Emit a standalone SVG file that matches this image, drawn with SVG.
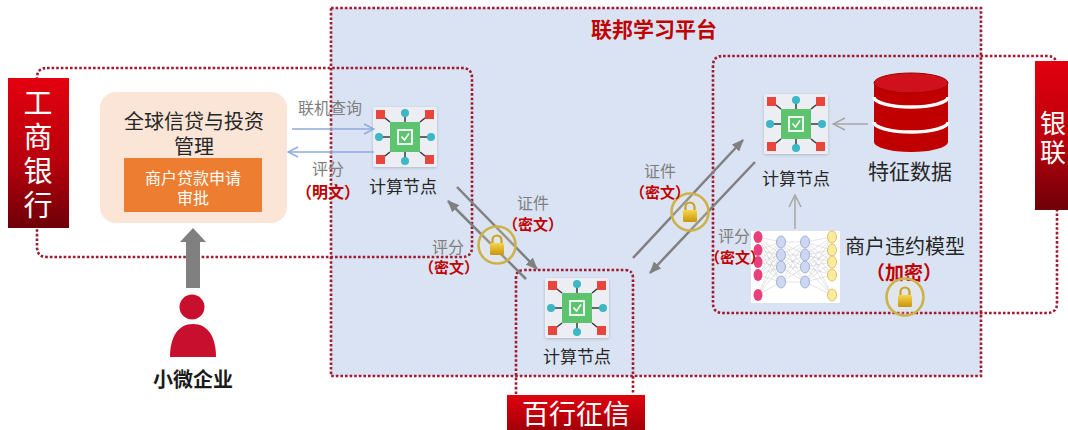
<svg xmlns="http://www.w3.org/2000/svg" width="1068" height="430" viewBox="0 0 1068 430">
  <defs>
    <style>
      text{font-family:"Noto Sans CJK SC","Noto Sans",sans-serif;dominant-baseline:central;text-anchor:middle}
      .dot{fill:none;stroke:#a01a30;stroke-width:2.6;stroke-dasharray:2.6 2}
      .gray{fill:#7f7f7f;font-size:16px}
      .red{fill:#c00000;font-size:15px;font-weight:bold}
      .lbl{fill:#262626;font-size:17px}
      .bank{fill:#ffffff;font-size:29px}
      .vert{writing-mode:vertical-rl;text-anchor:start}
      .dg{stroke:#808080;stroke-width:2.5;fill:none}
      .blue{stroke:#8faadc;stroke-width:1.5;fill:none}
      .thin{stroke:#a6a6a6;stroke-width:1.5;fill:none}
      .nn line{stroke:#c8c8c8;stroke-width:0.5}
    </style>
    <linearGradient id="redgrad" x1="0" y1="0" x2="0" y2="1">
      <stop offset="0" stop-color="#e3000f"/>
      <stop offset="0.55" stop-color="#b8000c"/>
      <stop offset="1" stop-color="#6e0008"/>
    </linearGradient>
    <linearGradient id="redgrad2" x1="0" y1="0" x2="0" y2="1">
      <stop offset="0" stop-color="#e0000e"/>
      <stop offset="1" stop-color="#a3000a"/>
    </linearGradient>
    <linearGradient id="gold" x1="0" y1="0" x2="0" y2="1">
      <stop offset="0" stop-color="#f6d64a"/>
      <stop offset="1" stop-color="#c9940f"/>
    </linearGradient>
    <filter id="sh" x="-20%" y="-20%" width="140%" height="140%">
      <feDropShadow dx="0" dy="1" stdDeviation="1.6" flood-color="#7a7a90" flood-opacity="0.45"/>
    </filter>
    <marker id="tri" viewBox="0 0 12 10" refX="11" refY="5" markerWidth="12" markerHeight="10" orient="auto" markerUnits="userSpaceOnUse">
      <path d="M0,0 L12,5 L0,10 z" fill="#808080"/>
    </marker>
    <marker id="chevB" viewBox="0 0 12 12" refX="11" refY="6" markerWidth="12" markerHeight="12" orient="auto" markerUnits="userSpaceOnUse">
      <path d="M1,1 L11,6 L1,11" fill="none" stroke="#8faadc" stroke-width="1.5"/>
    </marker>
    <marker id="chevG" viewBox="0 0 14 14" refX="13" refY="7" markerWidth="14" markerHeight="14" orient="auto" markerUnits="userSpaceOnUse">
      <path d="M1,1 L13,7 L1,13" fill="none" stroke="#a6a6a6" stroke-width="1.5"/>
    </marker>
    <!-- compute node icon -->
    <symbol id="cnode" viewBox="0 0 64 60" overflow="visible">
      <rect x="0" y="0" width="64" height="60" rx="2" fill="#eceef4" filter="url(#sh)"/>
      <g stroke="#3a3a3a" stroke-width="1.5">
        <line x1="7.5" y1="7.5" x2="17" y2="15"/>
        <line x1="56.5" y1="7.5" x2="47" y2="15"/>
        <line x1="7.5" y1="52.5" x2="17" y2="45"/>
        <line x1="56.5" y1="52.5" x2="47" y2="45"/>
        <line x1="32" y1="6" x2="32" y2="15"/>
        <line x1="32" y1="54" x2="32" y2="45"/>
        <line x1="6" y1="30" x2="17" y2="30"/>
        <line x1="58" y1="30" x2="47" y2="30"/>
      </g>
      <rect x="17" y="15" width="30" height="30" fill="#5cc46e"/>
      <rect x="25" y="23" width="14" height="14" fill="none" stroke="#ffffff" stroke-width="1.8"/>
      <path d="M28.5,29.5 L31.5,33 L36,26.5" fill="none" stroke="#ffffff" stroke-width="1.6"/>
      <g fill="#e8453c">
        <rect x="3" y="3" width="9" height="9"/>
        <rect x="52" y="3" width="9" height="9"/>
        <rect x="3" y="48" width="9" height="9"/>
        <rect x="52" y="48" width="9" height="9"/>
      </g>
      <g fill="#3bb8c4">
        <circle cx="32" cy="6" r="4"/>
        <circle cx="32" cy="54" r="4"/>
        <circle cx="6" cy="30" r="4"/>
        <circle cx="58" cy="30" r="4"/>
      </g>
    </symbol>
    <!-- padlock in a ring -->
    <symbol id="lock" viewBox="-20 -20 40 40" overflow="visible">
      <circle r="18.5" fill="#fff4c8" fill-opacity="0.18" stroke="#cdb14c" stroke-width="2.6"/>
      <path d="M-4.5,-1 V-5 A4.5,4.5 0 0 1 4.5,-5 V-1" fill="none" stroke="#c9a227" stroke-width="2.2"/>
      <rect x="-7" y="-2" width="14" height="12" rx="1.5" fill="url(#gold)"/>
    </symbol>
  </defs>

  <rect width="1068" height="430" fill="#ffffff"/>

  <!-- federated learning platform -->
  <g id="platform">
    <rect x="331" y="8" width="650" height="368" fill="#dae3f3"/>
    <rect x="331" y="8" width="650" height="368" class="dot"/>
    <text x="654" y="28" style="fill:#c00000;font-size:21px;font-weight:bold">联邦学习平台</text>
  </g>

  <!-- party boundaries -->
  <g id="boundaries">
    <path class="dot" d="M47,68 H462 Q472,68 472,78 V247 Q472,257 462,257 H47 Q37,257 37,247 V78 Q37,68 47,68 Z"/>
    <path class="dot" d="M723,56 H1047 Q1057,56 1057,66 V303 Q1057,313 1047,313 H723 Q713,313 713,303 V66 Q713,56 723,56 Z"/>
    <path class="dot" d="M516,394 V278 Q516,270 524,270 H625 Q633,270 633,278 V394"/>
  </g>

  <!-- ICBC label -->
  <g id="icbc">
    <rect x="8" y="78" width="61" height="150" fill="url(#redgrad)"/>
    <text class="bank vert" x="38" y="88" style="letter-spacing:5px">工商银行</text>
  </g>

  <!-- UnionPay label -->
  <g id="unionpay">
    <rect x="1035" y="61" width="33" height="149" fill="url(#redgrad)"/>
    <text class="bank vert" x="1053" y="110" style="font-size:26px;letter-spacing:3px">银联</text>
  </g>

  <!-- Baihang credit label -->
  <g id="baihang">
    <rect x="507" y="395" width="138" height="35" fill="url(#redgrad2)"/>
    <text class="bank" x="576" y="412" style="font-size:27px">百行征信</text>
  </g>

  <!-- credit management system -->
  <g id="credit-mgmt">
    <rect x="100" y="92" width="187" height="131" rx="16" fill="#fbe5d6"/>
    <text style="fill:#262626;font-size:20px"><tspan x="194" y="120">全球信贷与投资</tspan><tspan x="194" y="145">管理</tspan></text>
    <rect x="124" y="158" width="138" height="54" fill="#ed7d31"/>
    <text style="fill:#ffffff;font-size:16px"><tspan x="193" y="177">商户贷款申请</tspan><tspan x="193" y="197">审批</tspan></text>
  </g>

  <!-- small enterprise -->
  <g id="enterprise">
    <circle cx="192" cy="307" r="12.5" fill="#c8102e"/>
    <path d="M170,357 C170,337 178,324 193,324 C208,324 216,337 216,357 Z" fill="#c8102e"/>
    <text x="193" y="378" style="fill:#1a1a1a;font-size:20px;font-weight:bold">小微企业</text>
  </g>

  <!-- compute nodes -->
  <g id="node-icbc">
    <use href="#cnode" x="373" y="107" width="64" height="60"/>
    <text class="lbl" x="403" y="185">计算节点</text>
  </g>
  <g id="node-baihang">
    <use href="#cnode" x="545" y="278" width="64" height="60"/>
    <text class="lbl" x="577" y="355">计算节点</text>
  </g>
  <g id="node-unionpay">
    <use href="#cnode" x="764" y="94" width="64" height="60"/>
    <text class="lbl" x="796" y="177">计算节点</text>
  </g>

  <!-- feature data store -->
  <g id="feature-data">
    <path d="M874,83 V142 A37,10 0 0 0 948,142 V83 Z" fill="#c00000"/>
    <ellipse cx="911" cy="83" rx="37" ry="10" fill="#d0101a" stroke="#a00000" stroke-width="1"/>
    <path d="M874,97 A37,10 0 0 0 948,97" fill="none" stroke="#ffffff" stroke-width="3.5"/>
    <path d="M874,122 A37,10 0 0 0 948,122" fill="none" stroke="#ffffff" stroke-width="3.5"/>
    <text x="910" y="170" style="fill:#262626;font-size:21px">特征数据</text>
  </g>

  <!-- default model -->
  <g id="default-model">
    <rect x="751" y="231" width="89" height="72" fill="#ffffff"/>
    <g class="nn">
      <g>
        <line x1="758" y1="237" x2="781" y2="242"/><line x1="758" y1="237" x2="781" y2="255"/><line x1="758" y1="237" x2="781" y2="267"/><line x1="758" y1="237" x2="781" y2="282"/>
        <line x1="758" y1="250" x2="781" y2="242"/><line x1="758" y1="250" x2="781" y2="255"/><line x1="758" y1="250" x2="781" y2="267"/><line x1="758" y1="250" x2="781" y2="282"/>
        <line x1="758" y1="262" x2="781" y2="242"/><line x1="758" y1="262" x2="781" y2="255"/><line x1="758" y1="262" x2="781" y2="267"/><line x1="758" y1="262" x2="781" y2="282"/>
        <line x1="758" y1="275" x2="781" y2="242"/><line x1="758" y1="275" x2="781" y2="255"/><line x1="758" y1="275" x2="781" y2="267"/><line x1="758" y1="275" x2="781" y2="282"/>
        <line x1="758" y1="295" x2="781" y2="242"/><line x1="758" y1="295" x2="781" y2="255"/><line x1="758" y1="295" x2="781" y2="267"/><line x1="758" y1="295" x2="781" y2="282"/>
      </g>
      <g>
        <line x1="781" y1="242" x2="805" y2="242"/><line x1="781" y1="242" x2="805" y2="255"/><line x1="781" y1="242" x2="805" y2="267"/><line x1="781" y1="242" x2="805" y2="282"/>
        <line x1="781" y1="255" x2="805" y2="242"/><line x1="781" y1="255" x2="805" y2="255"/><line x1="781" y1="255" x2="805" y2="267"/><line x1="781" y1="255" x2="805" y2="282"/>
        <line x1="781" y1="267" x2="805" y2="242"/><line x1="781" y1="267" x2="805" y2="255"/><line x1="781" y1="267" x2="805" y2="267"/><line x1="781" y1="267" x2="805" y2="282"/>
        <line x1="781" y1="282" x2="805" y2="242"/><line x1="781" y1="282" x2="805" y2="255"/><line x1="781" y1="282" x2="805" y2="267"/><line x1="781" y1="282" x2="805" y2="282"/>
      </g>
      <g>
        <line x1="805" y1="242" x2="832" y2="237"/><line x1="805" y1="242" x2="832" y2="250"/><line x1="805" y1="242" x2="832" y2="262"/><line x1="805" y1="242" x2="832" y2="275"/><line x1="805" y1="242" x2="832" y2="295"/>
        <line x1="805" y1="255" x2="832" y2="237"/><line x1="805" y1="255" x2="832" y2="250"/><line x1="805" y1="255" x2="832" y2="262"/><line x1="805" y1="255" x2="832" y2="275"/><line x1="805" y1="255" x2="832" y2="295"/>
        <line x1="805" y1="267" x2="832" y2="237"/><line x1="805" y1="267" x2="832" y2="250"/><line x1="805" y1="267" x2="832" y2="262"/><line x1="805" y1="267" x2="832" y2="275"/><line x1="805" y1="267" x2="832" y2="295"/>
        <line x1="805" y1="282" x2="832" y2="237"/><line x1="805" y1="282" x2="832" y2="250"/><line x1="805" y1="282" x2="832" y2="262"/><line x1="805" y1="282" x2="832" y2="275"/><line x1="805" y1="282" x2="832" y2="295"/>
      </g>
    </g>
    <g fill="#e8407a">
      <ellipse cx="758" cy="237" rx="4.5" ry="6"/><ellipse cx="758" cy="250" rx="4.5" ry="6"/><ellipse cx="758" cy="262" rx="4.5" ry="6"/><ellipse cx="758" cy="275" rx="4.5" ry="6"/><ellipse cx="758" cy="295" rx="4.5" ry="6"/>
    </g>
    <g fill="#cdd8f0" stroke="#8fa3cf" stroke-width="0.8">
      <ellipse cx="781" cy="242" rx="4.5" ry="6"/><ellipse cx="781" cy="255" rx="4.5" ry="6"/><ellipse cx="781" cy="267" rx="4.5" ry="6"/><ellipse cx="781" cy="282" rx="4.5" ry="6"/>
      <ellipse cx="805" cy="242" rx="4.5" ry="6"/><ellipse cx="805" cy="255" rx="4.5" ry="6"/><ellipse cx="805" cy="267" rx="4.5" ry="6"/><ellipse cx="805" cy="282" rx="4.5" ry="6"/>
    </g>
    <g fill="#fbeaa0" stroke="#d6b84a" stroke-width="0.8">
      <ellipse cx="832" cy="237" rx="4.5" ry="6"/><ellipse cx="832" cy="250" rx="4.5" ry="6"/><ellipse cx="832" cy="262" rx="4.5" ry="6"/><ellipse cx="832" cy="275" rx="4.5" ry="6"/><ellipse cx="832" cy="295" rx="4.5" ry="6"/>
    </g>
    <text><tspan x="905" y="245" style="fill:#262626;font-size:20px">商户违约模型</tspan><tspan x="904" y="271" style="fill:#c00000;font-size:19px;font-weight:bold">（加密）</tspan></text>
    <use href="#lock" x="885" y="277" width="40" height="40"/>
  </g>

  <!-- connectors -->
  <g id="connectors">
    <path d="M193,288 V241" stroke="#808080" stroke-width="14" fill="none"/>
    <path d="M180,242 L193,228 L206,242 Z" fill="#808080"/>

    <line class="blue" x1="292" y1="129" x2="374" y2="129" marker-end="url(#chevB)"/>
    <line class="blue" x1="374" y1="152" x2="288" y2="152" marker-end="url(#chevB)"/>
    <text class="gray" x="330" y="107">联机查询</text>
    <text><tspan class="gray" x="328" y="168">评分</tspan><tspan class="red" x="328" y="191" style="font-size:16px">（明文）</tspan></text>

    <line class="dg" x1="457" y1="187" x2="537" y2="269" marker-end="url(#tri)"/>
    <line class="dg" x1="526" y1="279" x2="448" y2="201" marker-end="url(#tri)"/>
    <use href="#lock" x="477" y="225" width="40" height="40"/>
    <text><tspan class="gray" x="533" y="202">证件</tspan><tspan class="red" x="533" y="223">（密文）</tspan></text>
    <text><tspan class="gray" x="448" y="246">评分</tspan><tspan class="red" x="449" y="266">（密文）</tspan></text>

    <line class="dg" x1="633" y1="258" x2="743" y2="140" marker-end="url(#tri)"/>
    <line class="dg" x1="755" y1="162" x2="650" y2="273" marker-end="url(#tri)"/>
    <use href="#lock" x="670" y="192" width="40" height="40"/>
    <text><tspan class="gray" x="660" y="170">证件</tspan><tspan class="red" x="660" y="191">（密文）</tspan></text>

    <line class="thin" x1="868" y1="124" x2="833" y2="124" marker-end="url(#chevG)"/>
    <line class="thin" x1="795" y1="229" x2="795" y2="195" marker-end="url(#chevG)"/>
    <text><tspan class="gray" x="734" y="235">评分</tspan><tspan class="red" x="735" y="256">（密文）</tspan></text>
  </g>
</svg>
